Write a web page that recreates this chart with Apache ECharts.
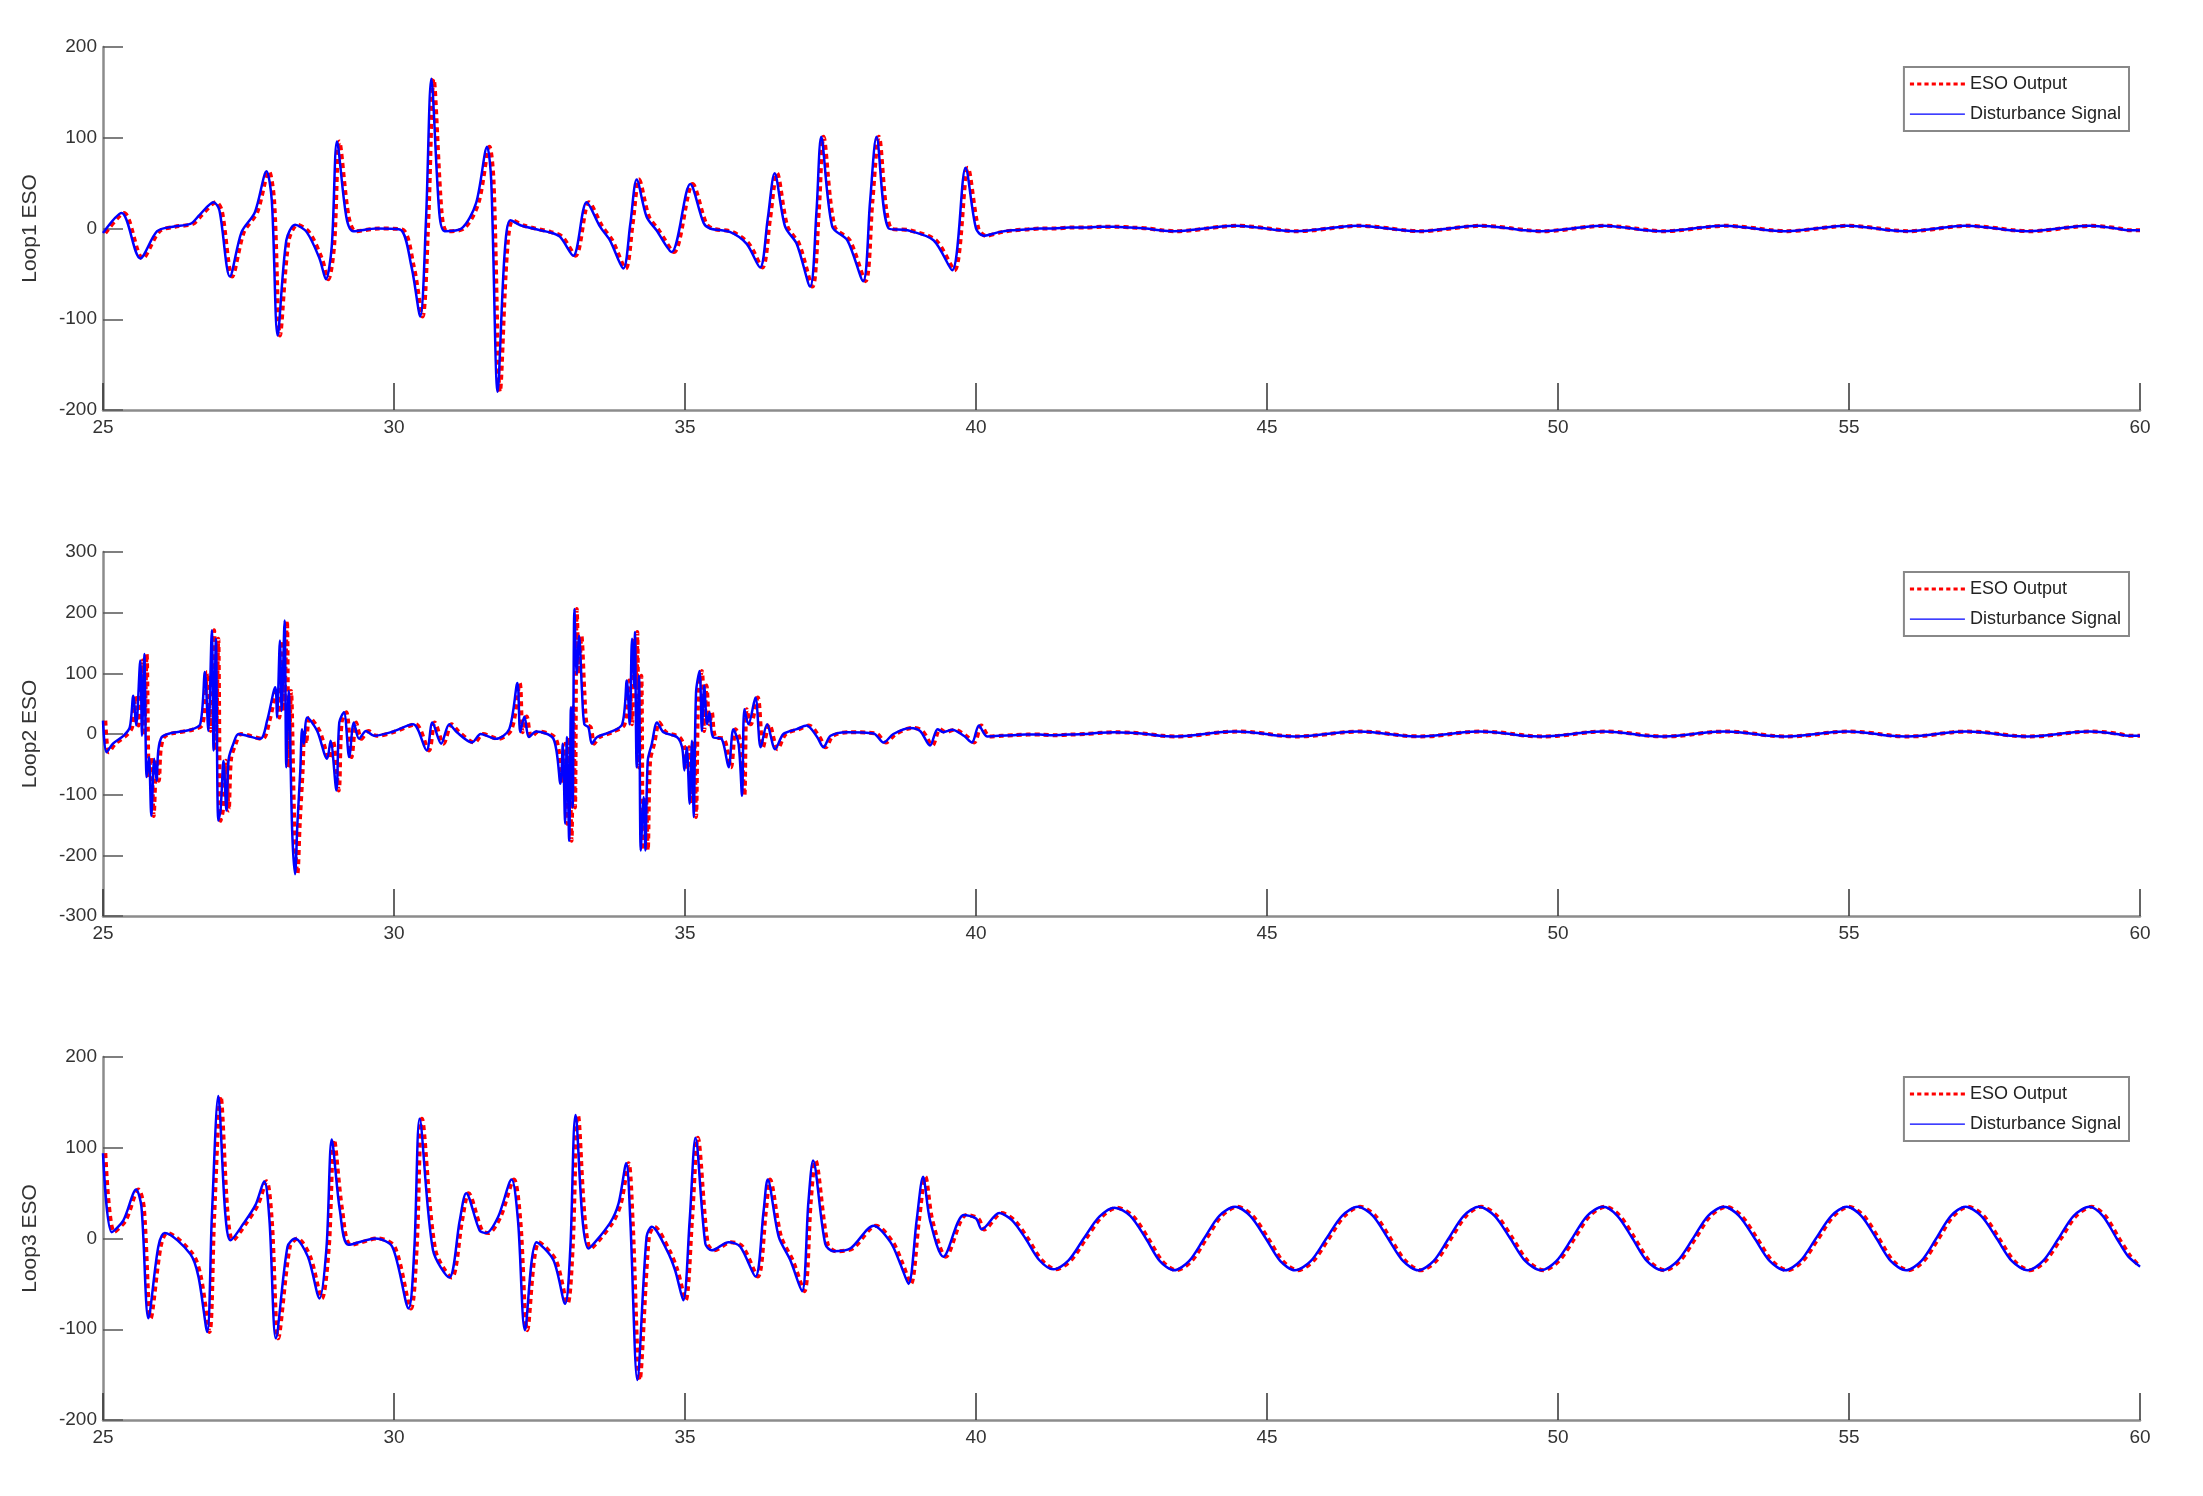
<!DOCTYPE html>
<html><head><meta charset="utf-8">
<script src="https://cdn.jsdelivr.net/npm/echarts@6/dist/echarts.min.js"></script>
<style>html,body{margin:0;padding:0;background:#fff}#c{width:2203px;height:1496px}</style>
</head><body><div id="c"></div>
<script>
// Disturbance signal samples [time, value]
const loop1Points = [[25.0,-5],[25.32,17],[25.64,-33],[25.93,-3],[26.2,2],[26.5,5],[26.66,15],[26.9,29],[27.0,20],[27.18,-53],[27.38,-4],[27.61,18],[27.81,63],[27.9,31],[28.0,-118],[28.15,-13],[28.3,4],[28.5,-4],[28.72,-33],[28.83,-56],[28.93,-20],[29.02,96],[29.18,13],[29.3,-3],[29.7,0],[30.1,-1],[30.3,-42],[30.45,-97],[30.55,10],[30.64,165],[30.78,16],[30.87,-3],[31.16,0],[31.41,28],[31.6,90],[31.67,53],[31.78,-180],[31.9,-28],[32.0,9],[32.2,3],[32.66,-4],[32.85,-9],[33.08,-30],[33.31,29],[33.54,2],[33.71,-13],[33.94,-44],[34.06,5],[34.17,54],[34.34,13],[34.51,-2],[34.77,-26],[35.09,49],[35.32,6],[35.43,0],[35.78,-4],[36.06,-17],[36.29,-43],[36.42,10],[36.54,61],[36.72,2],[36.92,-17],[37.15,-64],[37.26,20],[37.34,101],[37.53,2],[37.79,-13],[38.06,-58],[38.18,30],[38.29,101],[38.5,0],[38.82,-2],[39.27,-13],[39.59,-46],[39.82,67],[40.0,0],[40.13,-8]];
const loop2Points = [[25.0,22],[25.06,-30],[25.17,-16],[25.35,-3],[25.46,11],[25.52,63],[25.57,14],[25.64,121],[25.67,-3],[25.71,132],[25.75,-71],[25.79,-38],[25.83,-135],[25.88,-41],[25.92,-77],[25.95,-27],[26.01,-5],[26.15,1],[26.5,7],[26.67,16],[26.75,102],[26.81,5],[26.87,171],[26.9,-27],[26.94,157],[26.98,-143],[27.02,-126],[27.07,-44],[27.12,-126],[27.16,-41],[27.24,-16],[27.33,0],[27.7,-8],[27.82,22],[27.96,77],[27.99,27],[28.04,154],[28.07,38],[28.12,187],[28.15,-55],[28.19,71],[28.25,-159],[28.3,-231],[28.34,-148],[28.39,-60],[28.42,8],[28.45,-16],[28.51,27],[28.68,5],[28.85,-41],[28.91,-11],[29.01,-93],[29.06,19],[29.14,36],[29.23,-38],[29.31,19],[29.4,-8],[29.52,5],[29.66,-3],[29.95,3],[30.33,16],[30.56,-27],[30.66,19],[30.81,-16],[30.95,16],[31.08,3],[31.34,-14],[31.49,0],[31.75,-8],[31.98,8],[32.12,84],[32.17,3],[32.24,29],[32.32,-5],[32.44,4],[32.74,-8],[32.86,-82],[32.9,-16],[32.94,-148],[32.97,-5],[33.01,-176],[33.04,44],[33.07,-121],[33.1,206],[33.14,99],[33.18,162],[33.23,71],[33.27,16],[33.34,11],[33.4,-16],[33.49,-5],[33.71,3],[33.92,16],[34.0,88],[34.05,16],[34.09,157],[34.13,77],[34.14,168],[34.17,-55],[34.21,96],[34.24,-192],[34.29,-104],[34.32,-192],[34.36,-44],[34.43,-16],[34.52,19],[34.63,3],[34.86,-5],[34.95,-22],[34.99,-60],[35.03,-22],[35.08,-115],[35.12,-11],[35.15,-137],[35.19,69],[35.25,104],[35.29,5],[35.33,80],[35.38,16],[35.42,36],[35.48,-5],[35.63,-8],[35.75,-55],[35.83,8],[35.92,-16],[35.98,-102],[36.02,41],[36.09,16],[36.21,60],[36.3,-22],[36.41,16],[36.55,-25],[36.69,0],[36.92,8],[37.09,14],[37.27,-5],[37.38,-22],[37.5,-3],[37.78,3],[38.24,1],[38.41,-14],[38.58,0],[38.87,10],[39.04,5],[39.21,-19],[39.34,8],[39.44,3],[39.59,7],[39.79,-3],[39.93,-14],[40.05,14],[40.19,-4]];
const loop3Points = [[25.0,94],[25.15,7],[25.35,20],[25.57,54],[25.66,35],[25.78,-88],[25.95,-9],[26.06,6],[26.5,-17],[26.64,-42],[26.79,-103],[26.87,24],[26.98,157],[27.1,28],[27.19,-2],[27.42,17],[27.62,37],[27.77,63],[27.86,20],[27.97,-110],[28.17,-9],[28.3,0],[28.52,-20],[28.72,-66],[28.84,-10],[28.93,109],[29.07,31],[29.22,-7],[29.68,0],[29.97,-9],[30.25,-77],[30.35,-10],[30.44,132],[30.67,-13],[30.95,-43],[31.13,20],[31.24,50],[31.47,9],[31.58,6],[31.79,24],[32.02,65],[32.13,20],[32.25,-101],[32.45,-4],[32.74,-24],[32.94,-72],[33.03,-10],[33.12,136],[33.34,-11],[33.71,17],[33.86,39],[33.99,83],[34.06,20],[34.18,-156],[34.34,2],[34.43,13],[34.69,-13],[34.83,-35],[34.97,-68],[35.08,20],[35.18,111],[35.35,-6],[35.46,-13],[35.75,-4],[35.95,-9],[36.21,-42],[36.35,30],[36.42,65],[36.61,2],[36.81,-24],[37.01,-58],[37.12,40],[37.2,86],[37.41,-6],[37.55,-14],[37.84,-11],[38.24,14],[38.53,-4],[38.7,-28],[38.84,-50],[38.98,20],[39.09,68],[39.21,20],[39.44,-20],[39.79,26],[40.0,22],[40.1,10]];
// Steady tail after 40 s: shared sample times and per-loop values
const tailTimes = [40.4,40.62,40.85,41.09,41.33,41.59,41.85,42.12,42.38,42.65,42.92,43.16,43.4,43.66,43.92,44.18,44.45,44.71,44.98,45.23,45.48,45.75,46.02,46.29,46.56,46.82,47.08,47.34,47.6,47.86,48.12,48.38,48.64,48.91,49.18,49.44,49.71,49.97,50.24,50.5,50.77,51.02,51.28,51.53,51.79,52.05,52.32,52.58,52.85,53.11,53.38,53.64,53.9,54.16,54.43,54.7,54.96,55.21,55.47,55.72,55.98,56.24,56.5,56.75,57.0,57.27,57.54,57.8,58.07,58.33,58.6,58.86,59.13,59.36,59.6,59.8,60.0];
const loop1Tail = [-4,-2,-1,0,0,1,1,2,2,1,0,-2, -3,-2,0,2,3,2,0,-2, -3,-2,0,2,3,2,0,-2, -3,-2,0,2,3,2,0,-2, -3,-2,0,2,3,2,0,-2, -3,-2,0,2,3,2,0,-2, -3,-2,0,2,3,2,0,-2, -3,-2,0,2,3,2,0,-2, -3,-2,0,2,3,2,0,-2, -2];
const loop2Tail = [-3,-2,-1,-1,-2,-1,0,2,3,2,0,-3, -4,-3,0,3,4,3,0,-3, -4,-3,0,3,4,3,0,-3, -4,-3,0,3,4,3,0,-3, -4,-3,0,3,4,3,0,-3, -4,-3,0,3,4,3,0,-3, -4,-3,0,3,4,3,0,-3, -4,-3,0,3,4,3,0,-3, -4,-3,0,3,4,3,0,-3, -3];
const loop3Tail = [28,20,0,-24,-34,-24,0,24,34,25,0,-25, -35,-25,0,25,35,25,0,-25, -35,-25,0,25,35,25,0,-25, -35,-25,0,25,35,25,0,-25, -35,-25,0,25,35,25,0,-25, -35,-25,0,25,35,25,0,-25, -35,-25,0,25,35,25,0,-25, -35,-25,0,25,35,25,0,-25, -35,-25,0,25,35,25,0,-20, -31];
const esoLag = 0.04; // observer output lags the disturbance slightly
const xTicks = [25,30,35,40,45,50,55,60];
const yNames = ['Loop1 ESO','Loop2 ESO','Loop3 ESO'];
const yRanges = [[-200,200],[-300,300],[-200,200]];
const seriesNames = ['ESO Output','Disturbance Signal'];

const panels = [[loop1Points,loop1Tail],[loop2Points,loop2Tail],[loop3Points,loop3Tail]];
const grids = [{top:47,height:363},{top:552,height:364},{top:1057,height:363}];
const chart = echarts.init(document.getElementById('c'));
const narrow = '"Liberation Sans Narrow", "Arial Narrow", "Liberation Sans", sans-serif';
const dashIcon = 'path://M0,0h4v3h-4z M7,0h4v3h-4z M14,0h4v3h-4z M21,0h4v3h-4z M28,0h4v3h-4z M35,0h4v3h-4z M42,0h4v3h-4z M49,0h4v3h-4z';
const solidIcon = 'path://M0,1h53v1.3h-53z M0,0h0.01v3h-0.01z';
const option = {backgroundColor:'#fff', animation:false, grid:[], xAxis:[], yAxis:[], series:[], legend:[]};
panels.forEach((p,i)=>{
  const dist = p[0].concat(tailTimes.map((t,k)=>[t,p[1][k]]));
  const eso = dist.map(d=>[Math.min(60,d[0]+esoLag), d[1]]);
  option.grid.push({left:103,right:63,top:grids[i].top,height:grids[i].height});
  option.xAxis.push({type:'value',gridIndex:i,min:25,max:60,interval:5,
    axisLine:{onZero:false,lineStyle:{color:'#8c8c8c',width:2.5}},
    axisTick:{inside:true,length:27,lineStyle:{color:'#333',width:1.5}},
    axisLabel:{fontFamily:narrow,fontSize:19,color:'#333',margin:8},splitLine:{show:false}});
  option.yAxis.push({type:'value',gridIndex:i,min:yRanges[i][0],max:yRanges[i][1],interval:100,
    name:yNames[i],nameLocation:'middle',nameGap:62,nameRotate:90,
    nameTextStyle:{fontFamily:'"Liberation Sans", Arial, sans-serif',fontSize:21,color:'#333'},
    axisLine:{show:true,onZero:false,lineStyle:{color:'#8c8c8c',width:2.5}},
    axisTick:{inside:true,length:20,lineStyle:{color:'#555',width:1.5}},
    axisLabel:{fontFamily:narrow,fontSize:19,color:'#333',margin:6},splitLine:{show:false}});
  option.series.push({name:seriesNames[0],type:'line',xAxisIndex:i,yAxisIndex:i,data:eso,symbol:'none',smooth:0.3,
    lineStyle:{color:'#ff0000',width:4,type:[5,4]},itemStyle:{color:'#ff0000'}});
  option.series.push({name:seriesNames[1],type:'line',xAxisIndex:i,yAxisIndex:i,data:dist,symbol:'none',smooth:0.3,
    lineStyle:{color:'#0000ff',width:2.5},itemStyle:{color:'#0000ff'}});
  option.legend.push({data:[{name:seriesNames[0],icon:dashIcon,itemStyle:{color:'#ff0000'}},
                            {name:seriesNames[1],icon:solidIcon,itemStyle:{color:'#0000ff'}}],
    orient:'vertical',right:74,top:grids[i].top+20,
    itemWidth:55,itemHeight:4,itemGap:12,padding:[8,8,8,6],selectedMode:false,
    itemStyle:{borderWidth:0},lineStyle:{width:0},
    backgroundColor:'#fff',borderColor:'#888',borderWidth:2,borderRadius:0,
    textStyle:{fontFamily:narrow,fontSize:18,color:'#222'}});
});
chart.setOption(option);
</script></body></html>
